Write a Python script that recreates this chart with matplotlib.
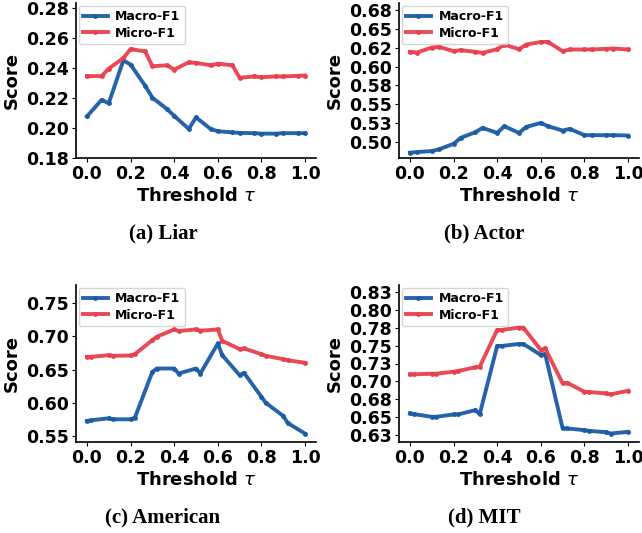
import numpy as np
import matplotlib
matplotlib.use('Agg')
from matplotlib import pyplot as plt

# threshold grids (each dataset was sampled a bit differently)
x_liar = [0.0, 0.067, 0.1, 0.167, 0.2, 0.267, 0.3, 0.367, 0.4, 0.467, 0.5,
          0.567, 0.6, 0.667, 0.7, 0.767, 0.8, 0.867, 0.9, 0.967, 1.0]
x_actor = [0.0, 0.033, 0.1, 0.133, 0.2, 0.233, 0.3, 0.333, 0.4, 0.433, 0.5,
           0.533, 0.6, 0.633, 0.7, 0.733, 0.8, 0.833, 0.9, 0.933, 1.0]
x_american = [0.0, 0.02, 0.1, 0.12, 0.2, 0.22, 0.3, 0.32, 0.4, 0.42, 0.5,
              0.52, 0.6, 0.62, 0.7, 0.72, 0.8, 0.82, 0.9, 0.92, 1.0]
x_mit = x_american

liar_macro = [0.2076, 0.2186, 0.2164, 0.2449, 0.2421, 0.228, 0.2201, 0.2125, 0.208, 0.1993, 0.207,
              0.1993, 0.1978, 0.197, 0.1967, 0.1965, 0.1962, 0.1962, 0.1965, 0.1965, 0.1965]
liar_micro = [0.2344, 0.2344, 0.2394, 0.2464, 0.2524, 0.2508, 0.241, 0.2416, 0.2388, 0.2436, 0.2432,
              0.2416, 0.2427, 0.2416, 0.2333, 0.2342, 0.2337, 0.2342, 0.2342, 0.2346, 0.2348]

actor_macro = [0.486, 0.4869, 0.4882, 0.4904, 0.4978, 0.5057, 0.5131, 0.5188, 0.5122, 0.521, 0.5122,
               0.5201, 0.5254, 0.521, 0.5153, 0.5175, 0.5092, 0.5092, 0.5092, 0.5092, 0.5087]
actor_micro = [0.6194, 0.6185, 0.6251, 0.626, 0.6203, 0.6216, 0.6194, 0.6181, 0.6229, 0.629, 0.6229,
               0.629, 0.6325, 0.6325, 0.6203, 0.6225, 0.6225, 0.6225, 0.6234, 0.6238, 0.6225]

american_macro = [0.573, 0.574, 0.577, 0.5755, 0.5755, 0.578, 0.6465, 0.6515, 0.6515, 0.644, 0.6515,
                  0.644, 0.689, 0.6715, 0.6415, 0.645, 0.609, 0.60, 0.5805, 0.57, 0.554]
american_micro = [0.669, 0.669, 0.6715, 0.6705, 0.671, 0.673, 0.694, 0.699, 0.71, 0.7075, 0.71,
                  0.708, 0.71, 0.693, 0.6805, 0.6815, 0.673, 0.6705, 0.6655, 0.664, 0.66]

mit_macro = [0.655, 0.654, 0.6503, 0.6503, 0.6536, 0.6536, 0.6597, 0.654, 0.7496, 0.7496, 0.7524,
             0.7524, 0.737, 0.7383, 0.634, 0.634, 0.6316, 0.6306, 0.6287, 0.6269, 0.6292]
mit_micro = [0.7098, 0.7098, 0.7107, 0.7107, 0.7135, 0.7145, 0.7196, 0.7205, 0.772, 0.772, 0.7753,
             0.7753, 0.744, 0.7463, 0.6971, 0.6981, 0.6854, 0.685, 0.6831, 0.6817, 0.6868]

liar_yticks = [0.18, 0.20, 0.22, 0.24, 0.26, 0.28]
actor_yticks = [0.50, 0.525, 0.55, 0.575, 0.60, 0.625, 0.65, 0.675]
actor_ylabels = ['0.50', '0.53', '0.55', '0.58', '0.60', '0.62', '0.65', '0.68']
american_yticks = [0.55, 0.60, 0.65, 0.70, 0.75]
mit_yticks = [0.625, 0.65, 0.675, 0.70, 0.725, 0.75, 0.775, 0.80, 0.825]
mit_ylabels = ['0.63', '0.65', '0.68', '0.70', '0.73', '0.75', '0.78', '0.80', '0.83']

captions = ['(a) Liar', '(b) Actor', '(c) American', '(d) MIT']

BLUE = '#1c5ba6'
RED = '#e8404f'

fig = plt.figure(figsize=(6.42, 5.33), dpi=100)

W, H = 642, 533
boxes = [(76, 3, 240, 155), (399, 3, 240, 155),
         (76, 285, 240, 157), (399, 285, 240, 157)]

panels = [
    (x_liar, liar_macro, liar_micro, liar_yticks, None, (0.18, 0.283)),
    (x_actor, actor_macro, actor_micro, actor_yticks, actor_ylabels, (0.479, 0.684)),
    (x_american, american_macro, american_micro, american_yticks, None, (0.5415, 0.7765)),
    (x_mit, mit_macro, mit_micro, mit_yticks, mit_ylabels, (0.615, 0.835)),
]

for i, (box, p) in enumerate(zip(boxes, panels)):
    l, t, w, h = box
    ax = fig.add_axes([l/W, 1 - (t + h)/H, w/W, h/H])
    xs, mac, mic, yt, yl, ylim = p
    ax.plot(xs, mac, color=BLUE, lw=2.8, marker='o', ms=2.5, alpha=0.95, label='Macro-F1')
    ax.plot(xs, mic, color=RED, lw=2.8, marker='o', ms=2.5, alpha=0.95, label='Micro-F1')
    ax.set_xlim(-0.05, 1.05)
    ax.set_ylim(*ylim)
    ax.set_xticks([0.0, 0.2, 0.4, 0.6, 0.8, 1.0])
    ax.set_xticklabels(['0.0', '0.2', '0.4', '0.6', '0.8', '1.0'])
    ax.set_yticks(yt)
    if yl is not None:
        ax.set_yticklabels(yl)
    else:
        ax.set_yticklabels(['%.2f' % v for v in yt])
    for lab in ax.get_xticklabels() + ax.get_yticklabels():
        lab.set_fontweight('bold')
        lab.set_fontsize(12.5)
    ax.tick_params(axis='both', pad=2, length=3)
    ax.spines['top'].set_visible(False)
    ax.spines['right'].set_visible(False)
    ax.spines['left'].set_linewidth(1.2)
    ax.spines['bottom'].set_linewidth(1.2)
    ax.set_ylabel('Score', fontsize=13, fontweight='bold', labelpad=4)
    ax.set_xlabel(r'Threshold $\tau$', fontsize=13, fontweight='bold', labelpad=3)
    ax.legend(loc='upper left', prop={'weight': 'bold', 'size': 9},
              borderaxespad=0.2, handlelength=2.0, labelspacing=0.3,
              borderpad=0.35, handletextpad=0.6)
    cx = 163 if i % 2 == 0 else 484
    cy = 233 if i < 2 else 517
    fig.text(cx/W, 1 - cy/H, captions[i], ha='center', va='center',
             fontsize=15, fontweight='bold', family='Liberation Serif')

fig.savefig('out.png', dpi=100)
